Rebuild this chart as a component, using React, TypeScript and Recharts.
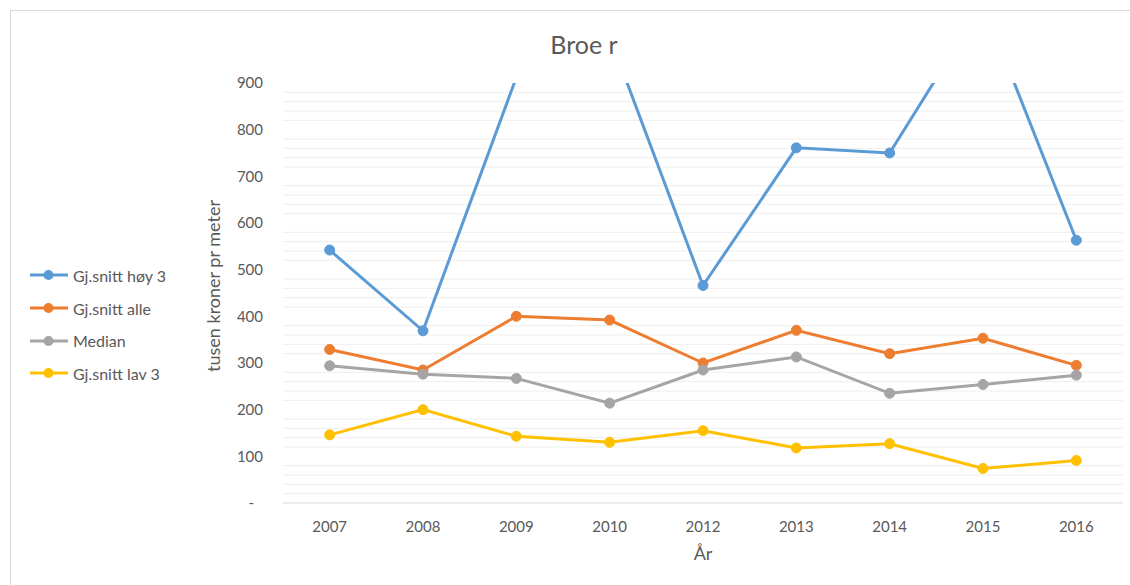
import React from 'react';
import { LineChart, Line, XAxis, YAxis, CartesianGrid } from 'recharts';

const years = ['2007', '2008', '2009', '2010', '2012', '2013', '2014', '2015', '2016'];
const hoy3 = [542, 369, 912, 1000, 466, 761, 750, 1070, 563];
const alle = [329, 285, 400, 392, 300, 370, 320, 353, 295];
const median = [294, 276, 267, 214, 285, 313, 235, 254, 274];
const lav3 = [146, 200, 143, 130, 155, 118, 127, 74, 91];

const yTicks = [0, 100, 200, 300, 400, 500, 600, 700, 800, 900];
const minorGrid = [20, 40, 60, 80, 120, 140, 160, 180, 220, 240, 260, 280, 320, 340, 360, 380, 420, 440, 460, 480, 520, 540, 560, 580, 620, 640, 660, 680, 720, 740, 760, 780, 820, 840, 860, 880];

const title = 'Broe r';
const yLabel = 'tusen kroner pr meter';
const xLabel = 'År';

const series = [
  { key: 'hoy3', name: 'Gj.snitt høy 3', color: '#5B9BD5', values: hoy3 },
  { key: 'alle', name: 'Gj.snitt alle', color: '#ED7D31', values: alle },
  { key: 'median', name: 'Median', color: '#A5A5A5', values: median },
  { key: 'lav3', name: 'Gj.snitt lav 3', color: '#FFC000', values: lav3 },
];

const data = years.map((y, i) => {
  const row: any = { year: y };
  series.forEach((s) => (row[s.key] = s.values[i]));
  return row;
});

const FONT = 'Lato, "Open Sans", sans-serif';
const TEXT = '#595959';

const YTick = (props: any) => {
  const { x, y, payload } = props;
  const isZero = payload.value === 0;
  return (
    <text x={isZero ? x - 9 : x} y={y} dy="0.35em" textAnchor="end" fill={TEXT} fontSize={15} fontFamily={FONT}>
      {isZero ? '-' : payload.value}
    </text>
  );
};

export default function App() {
  return (
    <div style={{ position: 'absolute', left: 0, top: 0, width: 1130, height: 585, overflow: 'hidden', background: '#fff', fontFamily: FONT }}>
      <div style={{ position: 'absolute', left: 10, top: 10, width: 1140, height: 600, border: '1px solid #d9d9d9', boxSizing: 'border-box' }} />
      <div style={{ position: 'absolute', left: 0, top: 0 }}>
        <LineChart width={1130} height={585} data={data} margin={{ top: 83, right: 7, bottom: 52, left: 0 }}>
          <CartesianGrid vertical={false} horizontalValues={minorGrid} stroke="#eeeeee" strokeWidth={1} />
          <XAxis
            dataKey="year"
            scale="band"
            height={30}
            tickLine={false}
            axisLine={{ stroke: '#d9d9d9', strokeWidth: 1 }}
            tick={{ fill: TEXT, fontSize: 15, fontFamily: FONT }}
            tickMargin={12}
            interval={0}
          />
          <YAxis
            width={283}
            domain={[0, 900]}
            ticks={yTicks}
            allowDataOverflow
            tickLine={false}
            axisLine={false}
            tick={<YTick />}
            tickMargin={14}
            interval={0}
          />
          {series.map((s) => (
            <Line
              key={s.key}
              type="linear"
              dataKey={s.key}
              name={s.name}
              stroke={s.color}
              strokeWidth={3}
              dot={{ r: 5, fill: s.color, stroke: s.color, strokeWidth: 1 }}
              activeDot={false}
              isAnimationActive={false}
            />
          ))}
        </LineChart>
      </div>
      <div style={{ position: 'absolute', left: 584, top: 44, transform: 'translate(-50%, -50%)', fontSize: 25, color: TEXT, whiteSpace: 'nowrap' }}>{title}</div>
      <div style={{ position: 'absolute', left: 213, top: 286, transform: 'translate(-50%, -50%) rotate(-90deg)', fontSize: 18, color: TEXT, whiteSpace: 'nowrap' }}>{yLabel}</div>
      <div style={{ position: 'absolute', left: 703, top: 553, transform: 'translate(-50%, -50%)', fontSize: 18, color: TEXT, whiteSpace: 'nowrap' }}>{xLabel}</div>
      <div style={{ position: 'absolute', left: 30, top: 259 }}>
        {series.map((s) => (
          <div key={s.key} style={{ display: 'flex', alignItems: 'center', height: 32.7 }}>
            <svg width={42} height={12} style={{ display: 'block' }}>
              <line x1={0} y1={6} x2={38} y2={6} stroke={s.color} strokeWidth={3} />
              <circle cx={18.5} cy={6} r={5} fill={s.color} />
            </svg>
            <span style={{ fontSize: 16, color: TEXT, whiteSpace: 'nowrap', marginLeft: 1 }}>{s.name}</span>
          </div>
        ))}
      </div>
    </div>
  );
}
